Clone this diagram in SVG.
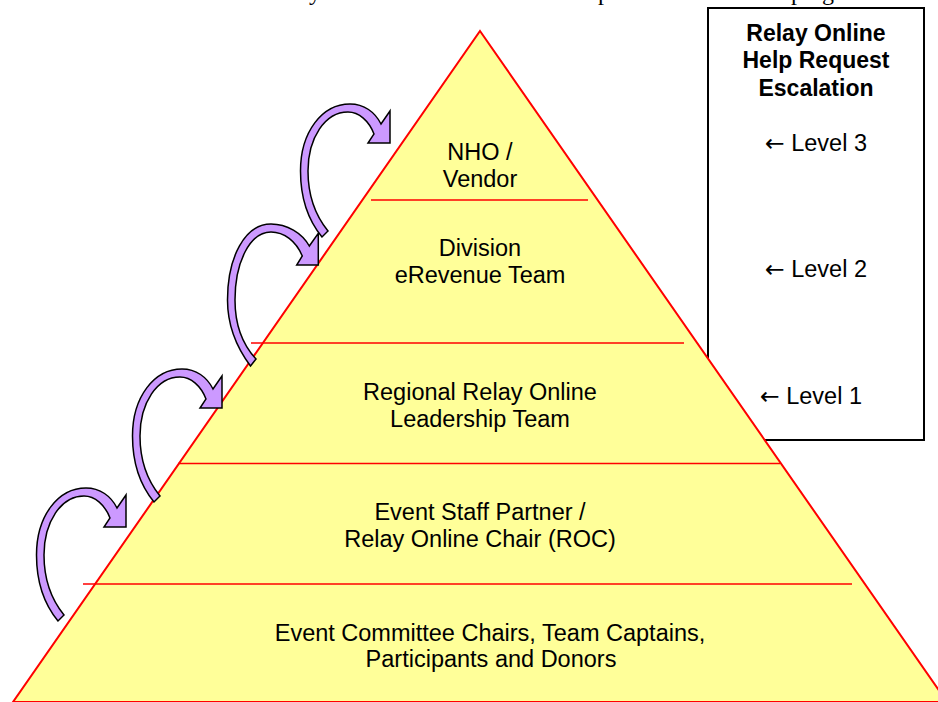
<svg xmlns="http://www.w3.org/2000/svg" xmlns:xlink="http://www.w3.org/1999/xlink" width="938" height="702" viewBox="0 0 938 702">
<style>
.t{font-family:"Liberation Sans",Arial,sans-serif;font-size:23.5px;fill:#000;text-anchor:middle}
.b{font-family:"Liberation Sans",Arial,sans-serif;font-size:23px;font-weight:bold;fill:#000;text-anchor:middle}
.lv{font-family:"Liberation Sans",Arial,sans-serif;font-size:23.5px;fill:#000}
.ar{font-family:"DejaVu Sans",sans-serif}
.frag{font-family:"Liberation Serif","Times New Roman",serif;font-size:24px;fill:#000}
.div{stroke:#FF0000;stroke-width:1.6;fill:none}
.arr{fill:#CC99FF;stroke:#000;stroke-width:1.5;stroke-linejoin:miter}
</style>
<defs>
<path id="curveArrow" class="arr" d="M322,237 C308,220 300.5,197 300.5,171 C300.5,132 322,104 350,104 C364,104 375,112 381,124 L390,111 L390,143 L368,143 L374,134 C369,121 359,112 348,112 C325,112 308,138 308,171 C308,195 315,215 328,231 Z"/>
</defs>
<rect width="938" height="702" fill="#fff"/>
<text class="frag" y="0"><tspan x="309">y</tspan><tspan x="598">p</tspan><tspan x="791">p</tspan><tspan x="822">g</tspan></text>
<g id="legend">
<rect x="708" y="8" width="216" height="432" fill="#fff" stroke="#000" stroke-width="2"/>
<text class="b" x="816" y="41">Relay Online</text>
<text class="b" x="816" y="68">Help Request</text>
<text class="b" x="816" y="95.5">Escalation</text>
<text class="lv" x="765" y="150.5"><tspan class="ar">←</tspan> Level 3</text>
<text class="lv" x="765" y="276.5"><tspan class="ar">←</tspan> Level 2</text>
<text class="lv" x="760" y="404.3" font-size="25.5"><tspan class="ar">←</tspan> Level 1</text>
</g>
<g id="pyramid">
<polygon points="480,31 947,702 13,702" fill="#FFFF99" stroke="#FF0000" stroke-width="2"/>
<line class="div" x1="371" y1="200" x2="588" y2="200"/>
<line class="div" x1="251" y1="343" x2="684" y2="343"/>
<line class="div" x1="178" y1="463.5" x2="780" y2="463.5"/>
<line class="div" x1="83" y1="584" x2="852" y2="584"/>
</g>
<g id="tier-nho">
<text class="t" x="480" y="160">NHO /</text>
<text class="t" x="480" y="186.7">Vendor</text>
</g>
<g id="tier-division">
<text class="t" x="480" y="256">Division</text>
<text class="t" x="480" y="282.7">eRevenue Team</text>
</g>
<g id="tier-regional">
<text class="t" x="480" y="400">Regional Relay Online</text>
<text class="t" x="480" y="427.3">Leadership Team</text>
</g>
<g id="tier-event-staff">
<text class="t" x="480" y="520">Event Staff Partner /</text>
<text class="t" x="480" y="546.7">Relay Online Chair (ROC)</text>
</g>
<g id="tier-event-committee">
<text class="t" x="490" y="640.7">Event Committee Chairs, Team Captains,</text>
<text class="t" x="491" y="666.7">Participants and Donors</text>
</g>
<g id="connectors">
<use xlink:href="#curveArrow" transform="translate(-264,384)"/>
<use xlink:href="#curveArrow" transform="translate(-168,265)"/>
<path class="arr" d="M250.5,366 C237,348 227.5,325 227.5,300 C227.5,257 245,224 271,224 C287,224 302,233 309.3,246 L318.3,233.3 L318.3,265 L296.7,265 L302.3,256 C296,241 284,232 271,232 C250,232 235,262 235,300 C235,324 242,344 256,359 Z"/>
<use xlink:href="#curveArrow"/>
</g>
</svg>
